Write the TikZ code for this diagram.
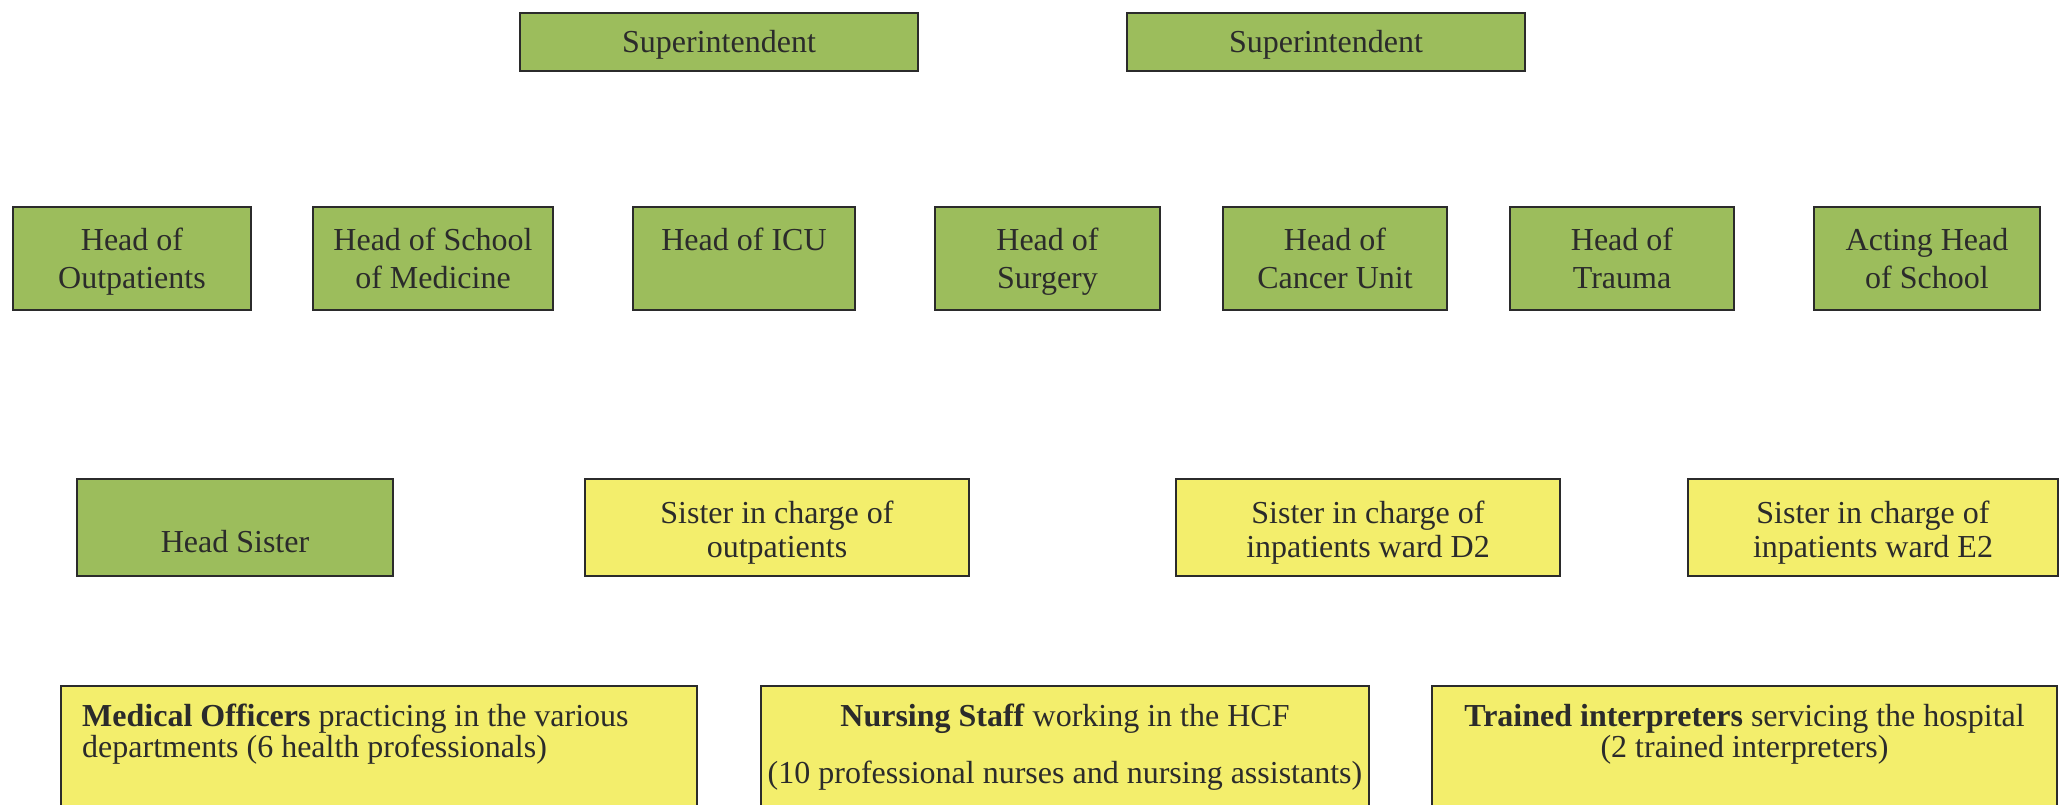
\documentclass[tikz,border=0pt]{standalone}
\usepackage{fontspec}
\setmainfont{Liberation Serif}
\definecolor{boxgreen}{HTML}{9CBD5C}
\definecolor{boxyellow}{HTML}{F3EE6C}
\definecolor{ink}{HTML}{2B2B2B}
\begin{document}
\begin{tikzpicture}[x=1pt,y=-1pt,
  box/.style={draw=ink, line width=2.2pt, inner sep=0pt},
  gbox/.style={box, fill=boxgreen},
  ybox/.style={box, fill=boxyellow},
  txt/.style={text=ink, inner sep=0pt, anchor=base, font=\fontsize{32}{38}\selectfont},
  ltxt/.style={txt, anchor=base west}]
\fill[white] (0,0) rectangle (2062,804);
\path[use as bounding box] (0,0) rectangle (2062,804);
\begin{scope}
\clip (0,0) rectangle (2062,804);
% row 1
\node[gbox, minimum width=398pt, minimum height=58pt] (sup1) at (719,42) {};
\node[gbox, minimum width=398pt, minimum height=58pt] (sup2) at (1326,42) {};
\node[txt] (sup1t) at (719,52.5) {Superintendent};
\node[txt] (sup2t) at (1326,52.5) {Superintendent};
% row 2
\node[gbox, minimum width=238pt, minimum height=103pt] (hout) at (132,258.5) {};
\node[gbox, minimum width=240pt, minimum height=103pt] (hsch) at (433,258.5) {};
\node[gbox, minimum width=222pt, minimum height=103pt] (hicu) at (744,258.5) {};
\node[gbox, minimum width=225pt, minimum height=103pt] (hsur) at (1047.5,258.5) {};
\node[gbox, minimum width=224pt, minimum height=103pt] (hcan) at (1335,258.5) {};
\node[gbox, minimum width=224pt, minimum height=103pt] (htra) at (1622,258.5) {};
\node[gbox, minimum width=226pt, minimum height=103pt] (hact) at (1927,258.5) {};
\node[txt] (hout1) at (132,250) {Head of};
\node[txt] (hout2) at (132,288) {Outpatients};
\node[txt] (hsch1) at (433,250) {Head of School};
\node[txt] (hsch2) at (433,288) {of Medicine};
\node[txt] (hicu1) at (744,250) {Head of ICU};
\node[txt] (hsur1) at (1047.5,250) {Head of};
\node[txt] (hsur2) at (1047.5,288) {Surgery};
\node[txt] (hcan1) at (1335,250) {Head of};
\node[txt] (hcan2) at (1335,288) {Cancer Unit};
\node[txt] (htra1) at (1622,250) {Head of};
\node[txt] (htra2) at (1622,288) {Trauma};
\node[txt] (hact1) at (1927,250) {Acting Head};
\node[txt] (hact2) at (1927,288) {of School};
% row 3
\node[gbox, minimum width=316pt, minimum height=97pt] (hsis) at (235,527.5) {};
\node[ybox, minimum width=384pt, minimum height=97pt] (sout) at (777,527.5) {};
\node[ybox, minimum width=384pt, minimum height=97pt] (sd2) at (1368,527.5) {};
\node[ybox, minimum width=370pt, minimum height=97pt] (se2) at (1873,527.5) {};
\node[txt] (hsis1) at (235,552) {Head Sister};
\node[txt] (sout1) at (777,523) {Sister in charge of};
\node[txt] (sout2) at (777,557) {outpatients};
\node[txt] (sd21) at (1368,523) {Sister in charge of};
\node[txt] (sd22) at (1368,557) {inpatients ward D2};
\node[txt] (se21) at (1873,523) {Sister in charge of};
\node[txt] (se22) at (1873,557) {inpatients ward E2};
% row 4
\node[ybox, minimum width=636pt, minimum height=143pt] (med) at (379,757.5) {};
\node[ybox, minimum width=608pt, minimum height=143pt] (nur) at (1065,757.5) {};
\node[ybox, minimum width=625pt, minimum height=143pt] (int) at (1744.5,757.5) {};
\node[ltxt] (med1) at (82,726) {\textbf{Medical Officers} practicing in the various};
\node[ltxt] (med2) at (82,757) {departments (6 health professionals)};
\node[txt] (nur1) at (1065,726) {\textbf{Nursing Staff} working in the HCF};
\node[txt] (nur2) at (1065,783) {(10 professional nurses and nursing assistants)};
\node[txt] (int1) at (1744.5,726) {\textbf{Trained interpreters} servicing the hospital};
\node[txt] (int2) at (1744.5,757) {(2 trained interpreters)};
\end{scope}
\end{tikzpicture}
\end{document}
